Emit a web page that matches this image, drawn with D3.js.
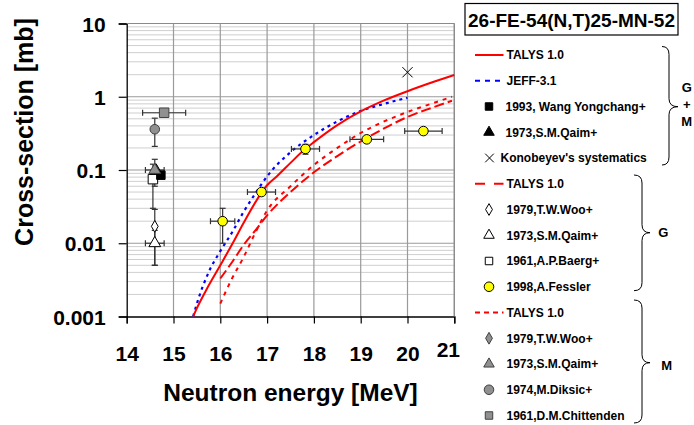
<!DOCTYPE html>
<html>
<head>
<meta charset="utf-8">
<script src="https://cdn.jsdelivr.net/npm/d3@7"></script>
<style>
  html, body { margin: 0; padding: 0; background: #fff; }
  svg { display: block; }
  text { font-family: "Liberation Sans", Arial, sans-serif; font-weight: bold; fill: #000; }
</style>
</head>
<body>
<svg id="chart" width="694" height="425"></svg>
<script>
// ---- Evaluated curves: energy [MeV] and cross-section [mb] ----
const talysTotalE = [15.42, 15.5, 15.7, 16.0, 16.3, 16.5, 17.0, 17.2, 17.5, 17.8, 18.0, 18.5, 19.0, 19.5, 20.0, 20.5, 21.0];
const talysTotal  = [0.001, 0.0013, 0.0023, 0.005, 0.011, 0.019, 0.062, 0.081, 0.125, 0.19, 0.24, 0.41, 0.63, 0.89, 1.19, 1.55, 1.98];

const jeffE = [15.42, 15.5, 15.75, 16.0, 16.25, 16.5, 16.75, 17.0, 17.5, 18.0, 18.5, 19.0, 19.5, 20.0];
const jeff  = [0.001, 0.0015, 0.004, 0.0078, 0.014, 0.027, 0.048, 0.082, 0.175, 0.30, 0.46, 0.64, 0.80, 0.97];

const talysGE = [16.0, 16.25, 16.5, 16.75, 17.0, 17.5, 18.0, 18.5, 19.0, 19.5, 20.0, 20.5, 20.95];
const talysG  = [0.0033, 0.0055, 0.0095, 0.015, 0.024, 0.05, 0.093, 0.155, 0.245, 0.37, 0.53, 0.70, 0.88];

const talysME = [16.0, 16.25, 16.5, 16.75, 17.0, 17.5, 18.0, 18.5, 19.0, 19.5, 20.0, 20.5, 20.95];
const talysM  = [0.0015, 0.0033, 0.0065, 0.014, 0.028, 0.06, 0.117, 0.20, 0.32, 0.46, 0.62, 0.80, 1.0];

// ---- Measurements: energy, energy error, cross-section, cross-section error ----
const fesslerE   = [16.05, 16.88, 17.82, 19.13, 20.34];
const fesslerDE  = [0.26, 0.30, 0.30, 0.36, 0.40];
const fesslerXS  = [0.020, 0.050, 0.194, 0.262, 0.34];
const fesslerDXS = [0.010, 0.005, 0.030, 0.020, 0.020];

const konobeyevE  = [20.0];
const konobeyevXS = [2.16];

const chittendenE = [14.8],  chittendenDE = [0.46], chittendenXS = [0.605], chittendenDXS = [0.06];
const diksicE     = [14.6],  diksicDE     = [0],    diksicXS     = [0.36],  diksicDXS     = [0.15];
const wooME       = [14.57], wooMDE       = [0],    wooMXS       = [0.088], wooMDXS       = [0];
const baergE      = [14.56], baergDE      = [0],    baergXS      = [0.075], baergDXS      = [0.045];
const wangE       = [14.73], wangDE       = [0],    wangXS       = [0.085], wangDXS       = [0];
const qaimGME     = [14.63], qaimGMDE     = [0],    qaimGMXS     = [0.098], qaimGMDXS     = [0];
const qaimME      = [14.6],  qaimMDE      = [0.2],  qaimMXS      = [0.10],  qaimMDXS      = [0.04];
const wooGE       = [14.6],  wooGDE       = [0],    wooGXS       = [0.017], wooGDXS       = [0.012];
const qaimGE      = [14.6],  qaimGDE      = [0.2],  qaimGXS      = [0.010], qaimGDXS      = [0.005];

// ---- Axis ticks ----
const xTicks = [14, 15, 16, 17, 18, 19, 20, 21];
const yTicks = [0.001, 0.01, 0.1, 1, 10];
const yTickLabels = ["0.001", "0.01", "0.1", "1", "10"];

// ---- Layout ----
const plot = { left: 126.7, right: 454.3, top: 23.5, bottom: 316.5 };
const svg = d3.select("#chart");

const x = d3.scaleLinear().domain([14, 21]).range([plot.left, plot.right]);
const y = d3.scaleLog().domain([0.001, 10]).range([plot.bottom, plot.top]);

const zip = (a, b) => a.map((v, i) => [v, b[i]]);
const pts = (E, dE, XS, dXS) => E.map((v, i) => ({ e: v, de: dE ? dE[i] : 0, s: XS[i], ds: dXS ? dXS[i] : 0 }));

// ---- Grid ----
const grid = svg.append("g");
const minor = [];
for (let p = -3; p <= 0; p++) for (let k = 2; k <= 9; k++) minor.push(k * Math.pow(10, p));
grid.selectAll("line.minor").data(minor).join("line")
  .attr("x1", plot.left).attr("x2", plot.right)
  .attr("y1", d => y(d)).attr("y2", d => y(d))
  .attr("stroke", "#cfcfcf").attr("stroke-width", 1);
grid.selectAll("line.major").data(yTicks.slice(1)).join("line")
  .attr("x1", plot.left).attr("x2", plot.right)
  .attr("y1", d => y(d)).attr("y2", d => y(d))
  .attr("stroke", "#9a9a9a").attr("stroke-width", 1.2);
grid.selectAll("line.v").data(xTicks.slice(1)).join("line")
  .attr("x1", d => x(d)).attr("x2", d => x(d))
  .attr("y1", plot.top).attr("y2", plot.bottom)
  .attr("stroke", "#9a9a9a").attr("stroke-width", 1.2);

// ---- Axes ----
const xAxis = d3.axisBottom(x).tickValues(xTicks).tickSize(7).tickFormat(d3.format("d"));
const gx = svg.append("g").attr("transform", `translate(0,${plot.bottom})`).call(xAxis);
gx.select(".domain").attr("stroke", "#000").attr("stroke-width", 1.3);
gx.selectAll(".tick line").attr("stroke", "#000").attr("stroke-width", 1.2);
gx.selectAll(".tick text")
  .attr("font-size", 21).attr("font-family", "Liberation Sans, Arial, sans-serif")
  .attr("font-weight", "bold").attr("fill", "#000")
  .attr("dy", null).attr("y", 44.5)
  .attr("transform", d => d === 21 ? "translate(-6.5,-4.5)" : null);

const yAxis = d3.axisLeft(y).tickValues(yTicks).tickSize(8).tickFormat((d, i) => yTickLabels[i]);
const gy = svg.append("g").attr("transform", `translate(${plot.left},0)`).call(yAxis);
gy.select(".domain").attr("stroke", "#000").attr("stroke-width", 1.3);
gy.selectAll(".tick line").attr("stroke", "#000").attr("stroke-width", 1.2);
gy.selectAll(".tick text")
  .attr("font-size", 21).attr("font-family", "Liberation Sans, Arial, sans-serif")
  .attr("font-weight", "bold").attr("fill", "#000")
  .attr("x", -21).attr("dy", "0.36em");

// top and right frame lines
svg.append("line").attr("x1", plot.left).attr("x2", plot.right).attr("y1", plot.top).attr("y2", plot.top)
  .attr("stroke", "#8a8a8a").attr("stroke-width", 1.2);
svg.append("line").attr("x1", plot.right).attr("x2", plot.right).attr("y1", plot.top).attr("y2", plot.bottom)
  .attr("stroke", "#8a8a8a").attr("stroke-width", 1.2);

// ---- Axis titles ----
svg.append("text").attr("x", (plot.left + plot.right) / 2).attr("y", 401)
  .attr("text-anchor", "middle").attr("font-size", 24.5).text("Neutron energy [MeV]");
svg.append("text").attr("transform", "translate(33,132) rotate(-90)")
  .attr("text-anchor", "middle").attr("font-size", 25).text("Cross-section [mb]");

// ---- Curves ----
const line = d3.line().x(d => x(d[0])).y(d => y(d[1])).curve(d3.curveMonotoneX);
const curves = svg.append("g").attr("fill", "none");
curves.append("path").attr("d", line(zip(talysME, talysM)))
  .attr("stroke", "#ff0000").attr("stroke-width", 2).attr("stroke-dasharray", "4,5");
curves.append("path").attr("d", line(zip(talysGE, talysG)))
  .attr("stroke", "#ff0000").attr("stroke-width", 2).attr("stroke-dasharray", "10,4");
curves.append("path").attr("d", line(zip(jeffE, jeff)))
  .attr("stroke", "#0000ff").attr("stroke-width", 2.2).attr("stroke-dasharray", "3,4");
curves.append("path").attr("d", line(zip(talysTotalE, talysTotal)))
  .attr("stroke", "#ff0000").attr("stroke-width", 2);

// ---- Markers ----
const sym = {
  square: d3.symbol().type(d3.symbolSquare).size(72),
  squareL: d3.symbol().type(d3.symbolSquare).size(90),
  triangle: d3.symbol().type(d3.symbolTriangle).size(60),
  diamond: d3.symbol().type(d3.symbolDiamond).size(40),
  circle: d3.symbol().type(d3.symbolCircle).size(72)
};

const errColor = "#333";
function errorBars(g, data) {
  const cap = 3;
  data.forEach(d => {
    if (d.de > 0) {
      const x0 = x(d.e - d.de), x1 = x(d.e + d.de), yy = y(d.s);
      g.append("line").attr("x1", x0).attr("x2", x1).attr("y1", yy).attr("y2", yy);
      g.append("line").attr("x1", x0).attr("x2", x0).attr("y1", yy - cap).attr("y2", yy + cap);
      g.append("line").attr("x1", x1).attr("x2", x1).attr("y1", yy - cap).attr("y2", yy + cap);
    }
    if (d.ds > 0) {
      const y0 = y(d.s - d.ds), y1 = y(d.s + d.ds), xx = x(d.e);
      g.append("line").attr("x1", xx).attr("x2", xx).attr("y1", y0).attr("y2", y1);
      g.append("line").attr("x1", xx - cap).attr("x2", xx + cap).attr("y1", y0).attr("y2", y0);
      g.append("line").attr("x1", xx - cap).attr("x2", xx + cap).attr("y1", y1).attr("y2", y1);
    }
  });
}
function markers(g, data, shape, fill, stroke) {
  g.selectAll(null).data(data).join("path")
    .attr("d", sym[shape])
    .attr("transform", d => `translate(${x(d.e)},${y(d.s)})`)
    .attr("fill", fill).attr("stroke", stroke).attr("stroke-width", 1);
}

const sets = [
  { d: pts(qaimGE, qaimGDE, qaimGXS, qaimGDXS), shape: "triangle", fill: "#fff", stroke: "#000" },
  { d: pts(wooGE, wooGDE, wooGXS, wooGDXS), shape: "diamond", fill: "#fff", stroke: "#000" },
  { d: pts(diksicE, diksicDE, diksicXS, diksicDXS), shape: "circle", fill: "#909090", stroke: "#404040" },
  { d: pts(chittendenE, chittendenDE, chittendenXS, chittendenDXS), shape: "squareL", fill: "#909090", stroke: "#404040" },
  { d: pts(wooME, wooMDE, wooMXS, wooMDXS), shape: "diamond", fill: "#909090", stroke: "#404040" },
  { d: pts(baergE, baergDE, baergXS, baergDXS), shape: "squareL", fill: "#fff", stroke: "#000" },
  { d: pts(wangE, wangDE, wangXS, wangDXS), shape: "square", fill: "#000", stroke: "#000" },
  { d: pts(qaimGME, qaimGMDE, qaimGMXS, qaimGMDXS), shape: "triangle", fill: "#000", stroke: "#000" },
  { d: pts(qaimME, qaimMDE, qaimMXS, qaimMDXS), shape: "triangle", fill: "#909090", stroke: "#404040" },
  { d: pts(fesslerE, fesslerDE, fesslerXS, fesslerDXS), shape: "circle", fill: "#ffff00", stroke: "#000" }
];
const eb = svg.append("g").attr("stroke", errColor).attr("stroke-width", 1.2);
sets.forEach(s => errorBars(eb, s.d));
const mk = svg.append("g");
sets.forEach(s => markers(mk, s.d, s.shape, s.fill, s.stroke));

// Konobeyev systematics (cross)
const cross = d3.symbol().type(d3.symbolTimes).size(70);
mk.selectAll(null).data(pts(konobeyevE, null, konobeyevXS, null)).join("path")
  .attr("d", cross).attr("transform", d => `translate(${x(d.e)},${y(d.s)})`)
  .attr("fill", "none").attr("stroke", "#000").attr("stroke-width", 1);

// ---- Title box ----
svg.append("rect").attr("x", 465).attr("y", 3.5).attr("width", 213).attr("height", 31.5)
  .attr("fill", "#fff").attr("stroke", "#000").attr("stroke-width", 1.2);
svg.append("text").attr("x", 571.5).attr("y", 26.5).attr("text-anchor", "middle")
  .attr("font-size", 19).text("26-FE-54(N,T)25-MN-52");

// ---- Legend ----
const legendItems = [
  { label: "TALYS 1.0", kind: "line", color: "#ff0000", dash: null },
  { label: "JEFF-3.1", kind: "line", color: "#0000ff", dash: "5,5" },
  { label: "1993, Wang Yongchang+", kind: "mark", shape: "square", fill: "#000", stroke: "#000", dx: -1 },
  { label: "1973,S.M.Qaim+", kind: "mark", shape: "triangle", fill: "#000", stroke: "#000", dx: -1 },
  { label: "Konobeyev's systematics", kind: "cross", dx: -6 },
  { label: "TALYS 1.0", kind: "line", color: "#ff0000", dash: "10,9" },
  { label: "1979,T.W.Woo+", kind: "mark", shape: "diamond", fill: "#fff", stroke: "#000" },
  { label: "1973,S.M.Qaim+", kind: "mark", shape: "triangle", fill: "#fff", stroke: "#000" },
  { label: "1961,A.P.Baerg+", kind: "mark", shape: "square", fill: "#fff", stroke: "#000" },
  { label: "1998,A.Fessler", kind: "mark", shape: "circle", fill: "#ffff00", stroke: "#000" },
  { label: "TALYS 1.0", kind: "line", color: "#ff0000", dash: "5,4" },
  { label: "1979,T.W.Woo+", kind: "mark", shape: "diamond", fill: "#909090", stroke: "#404040" },
  { label: "1973,S.M.Qaim+", kind: "mark", shape: "triangle", fill: "#909090", stroke: "#404040" },
  { label: "1974,M.Diksic+", kind: "mark", shape: "circle", fill: "#909090", stroke: "#404040" },
  { label: "1961,D.M.Chittenden", kind: "mark", shape: "square", fill: "#909090", stroke: "#404040" }
];
const lg = svg.append("g");
const legendSym = {
  square: d3.symbol().type(d3.symbolSquare).size(56),
  triangle: d3.symbol().type(d3.symbolTriangle).size(48),
  diamond: d3.symbol().type(d3.symbolDiamond).size(40),
  circle: d3.symbol().type(d3.symbolCircle).size(72)
};
legendItems.forEach((it, i) => {
  const yy = 55 + 25.75 * i;
  if (it.kind === "line") {
    lg.append("line").attr("x1", 475).attr("x2", 503.5).attr("y1", yy).attr("y2", yy)
      .attr("stroke", it.color).attr("stroke-width", 2)
      .attr("stroke-dasharray", it.dash);
  } else if (it.kind === "mark") {
    lg.append("path").attr("d", legendSym[it.shape]).attr("transform", `translate(489,${yy})`)
      .attr("fill", it.fill).attr("stroke", it.stroke).attr("stroke-width", 1);
  } else {
    lg.append("path").attr("d", d3.symbol().type(d3.symbolTimes).size(50)).attr("transform", `translate(489.5,${yy})`)
      .attr("fill", "none").attr("stroke", "#000").attr("stroke-width", 1);
  }
  lg.append("text").attr("x", 506.5 + (it.dx || 0)).attr("y", yy + 4.3)
    .attr("font-size", 12).text(it.label);
});

// ---- Group braces ----
function brace(x0, xb, xt, yt, ym, yb) {
  const r = 8;
  return `M${x0},${yt} Q${xb},${yt} ${xb},${yt + r} L${xb},${ym - r} Q${xb},${ym} ${xt},${ym}` +
         ` Q${xb},${ym} ${xb},${ym + r} L${xb},${yb - r} Q${xb},${yb} ${x0},${yb}`;
}
const br = svg.append("g").attr("fill", "none").attr("stroke", "#000").attr("stroke-width", 1);
br.append("path").attr("d", brace(662, 669, 678, 46.5, 106.7, 165));
br.append("path").attr("d", brace(634, 642, 650, 175, 232.7, 290.7));
br.append("path").attr("d", brace(634, 642, 650, 300, 362.7, 423));

const groupLabels = [
  { t: "G", x: 686.7, y: 91.7 }, { t: "+", x: 686.7, y: 108.5 }, { t: "M", x: 686.7, y: 125.5 },
  { t: "G", x: 663.3, y: 237 }, { t: "M", x: 666.7, y: 369.5 }
];
svg.append("g").selectAll("text").data(groupLabels).join("text")
  .attr("x", d => d.x).attr("y", d => d.y).attr("text-anchor", "middle")
  .attr("font-size", 13).text(d => d.t);
</script>
</body>
</html>
